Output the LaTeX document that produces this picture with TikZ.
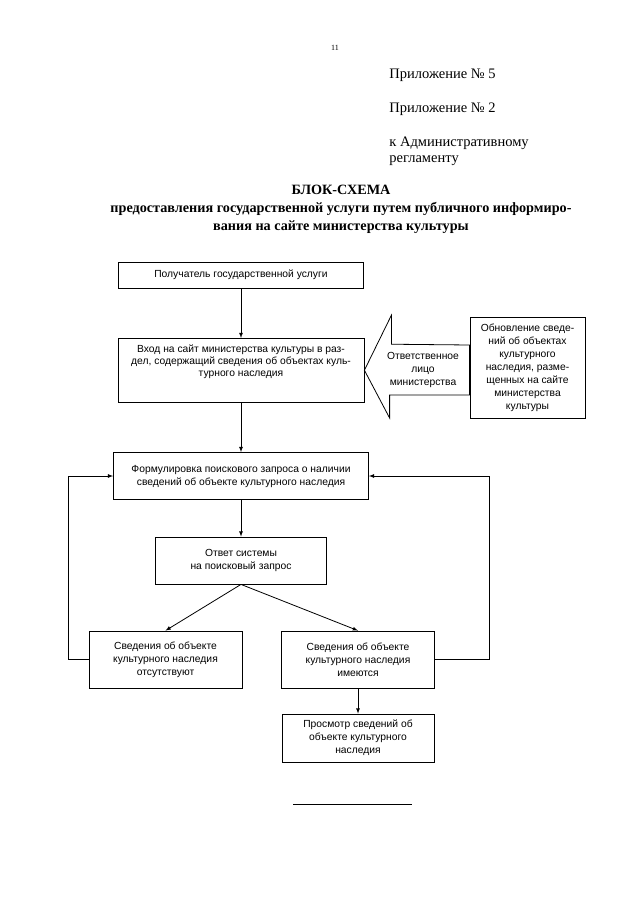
\documentclass[tikz,border=0pt]{standalone}
\usepackage{fontspec}
\setmainfont{Liberation Serif}
\setsansfont{Liberation Sans}
\usepackage{tikz}

\begin{document}
\begin{tikzpicture}[x=1pt,y=-1pt,>=latex,line width=0.8pt,
    box/.style={draw,align=center,inner sep=2pt,font=\sffamily\fontsize{10.3}{13}\selectfont},
    txt/.style={inner sep=0pt,font=\fontsize{14.5}{16}\selectfont}]
    \useasboundingbox (0,0) rectangle (640,905);
    % header
    \node[inner sep=0pt,font=\fontsize{8}{9}\selectfont] (num) at (335,48) {11};
    \node[txt,anchor=base west] (pr5) at (389,78) {Приложение № 5};
    \node[txt,anchor=base west] (pr2) at (389,112) {Приложение № 2};
    \node[txt,anchor=base west] (adm) at (389,146) {к Административному};
    \node[txt,anchor=base west] (reg) at (389,162) {регламенту};
    \node[align=center,inner sep=0pt,font=\bfseries\fontsize{14.2}{18}\selectfont] (title) at (341,209)
    {БЛОК-СХЕМА\\предоставления государственной услуги путем публичного информиро-\\вания на сайте министерства культуры};
    % boxes
    \node[box,minimum width=245,minimum height=26] (pol) at (241,275) {Получатель государственной услуги};
    \node[box,minimum width=246,anchor=north,text depth=20pt,inner ysep=6pt,
      font=\sffamily\fontsize{10.3}{12}\selectfont] (vhod) at (241,338)
    {Вход на сайт министерства культуры в раз-\\дел, содержащий сведения об объектах куль-\\турного наследия};
    \node[box,minimum width=115,minimum height=101] (obn) at (527.5,367.5)
    {Обновление сведе-\\ний об объектах\\культурного\\наследия, разме-\\щенных на сайте\\министерства\\культуры};
    \node[box,draw=none] (lico) at (423,370) {Ответственное\\лицо\\министерства};
    \node[box,minimum width=255,minimum height=47] (form) at (241,476)
    {Формулировка поискового запроса о наличии\\сведений об объекте культурного наследия};
    \node[box,minimum width=171,minimum height=47] (otv) at (241,560.5) {Ответ системы\\на поисковый запрос};
    \node[box,minimum width=153,minimum height=57] (net) at (165.5,659.5)
    {Сведения об объекте\\культурного наследия\\отсутствуют};
    \node[box,minimum width=153,minimum height=57] (est) at (358,659.5)
    {Сведения об объекте\\культурного наследия\\имеются};
    \node[box,minimum width=152,minimum height=48] (prosm) at (358,738)
    {Просмотр сведений об\\объекте культурного\\наследия};
    % big arrow
    \draw (vhod.east) -- ++(27,-55) -- ++(0,29) -- ([yshift=22.5pt]obn.west)
      -- ([yshift=-27.5pt]obn.west) -- ++(-80,0) -- ++(0,23) -- cycle;
    % connectors
    \foreach \from/\to in
    {pol/vhod,vhod/form,form/otv,otv/net,otv/est,est/prosm}
    \draw[->] (\from.south) -- (\to.north);
    \draw[->] (net.west) -- ++(-20,0) |- (form.west);
    \draw[->] (est.east) -- ++(54,0) |- (form.east);
    % rule
    \coordinate (r1) at (293,804);
    \coordinate (r2) at (412,804);
    \draw (r1) -- (r2);
  \end{tikzpicture}
\end{document}
